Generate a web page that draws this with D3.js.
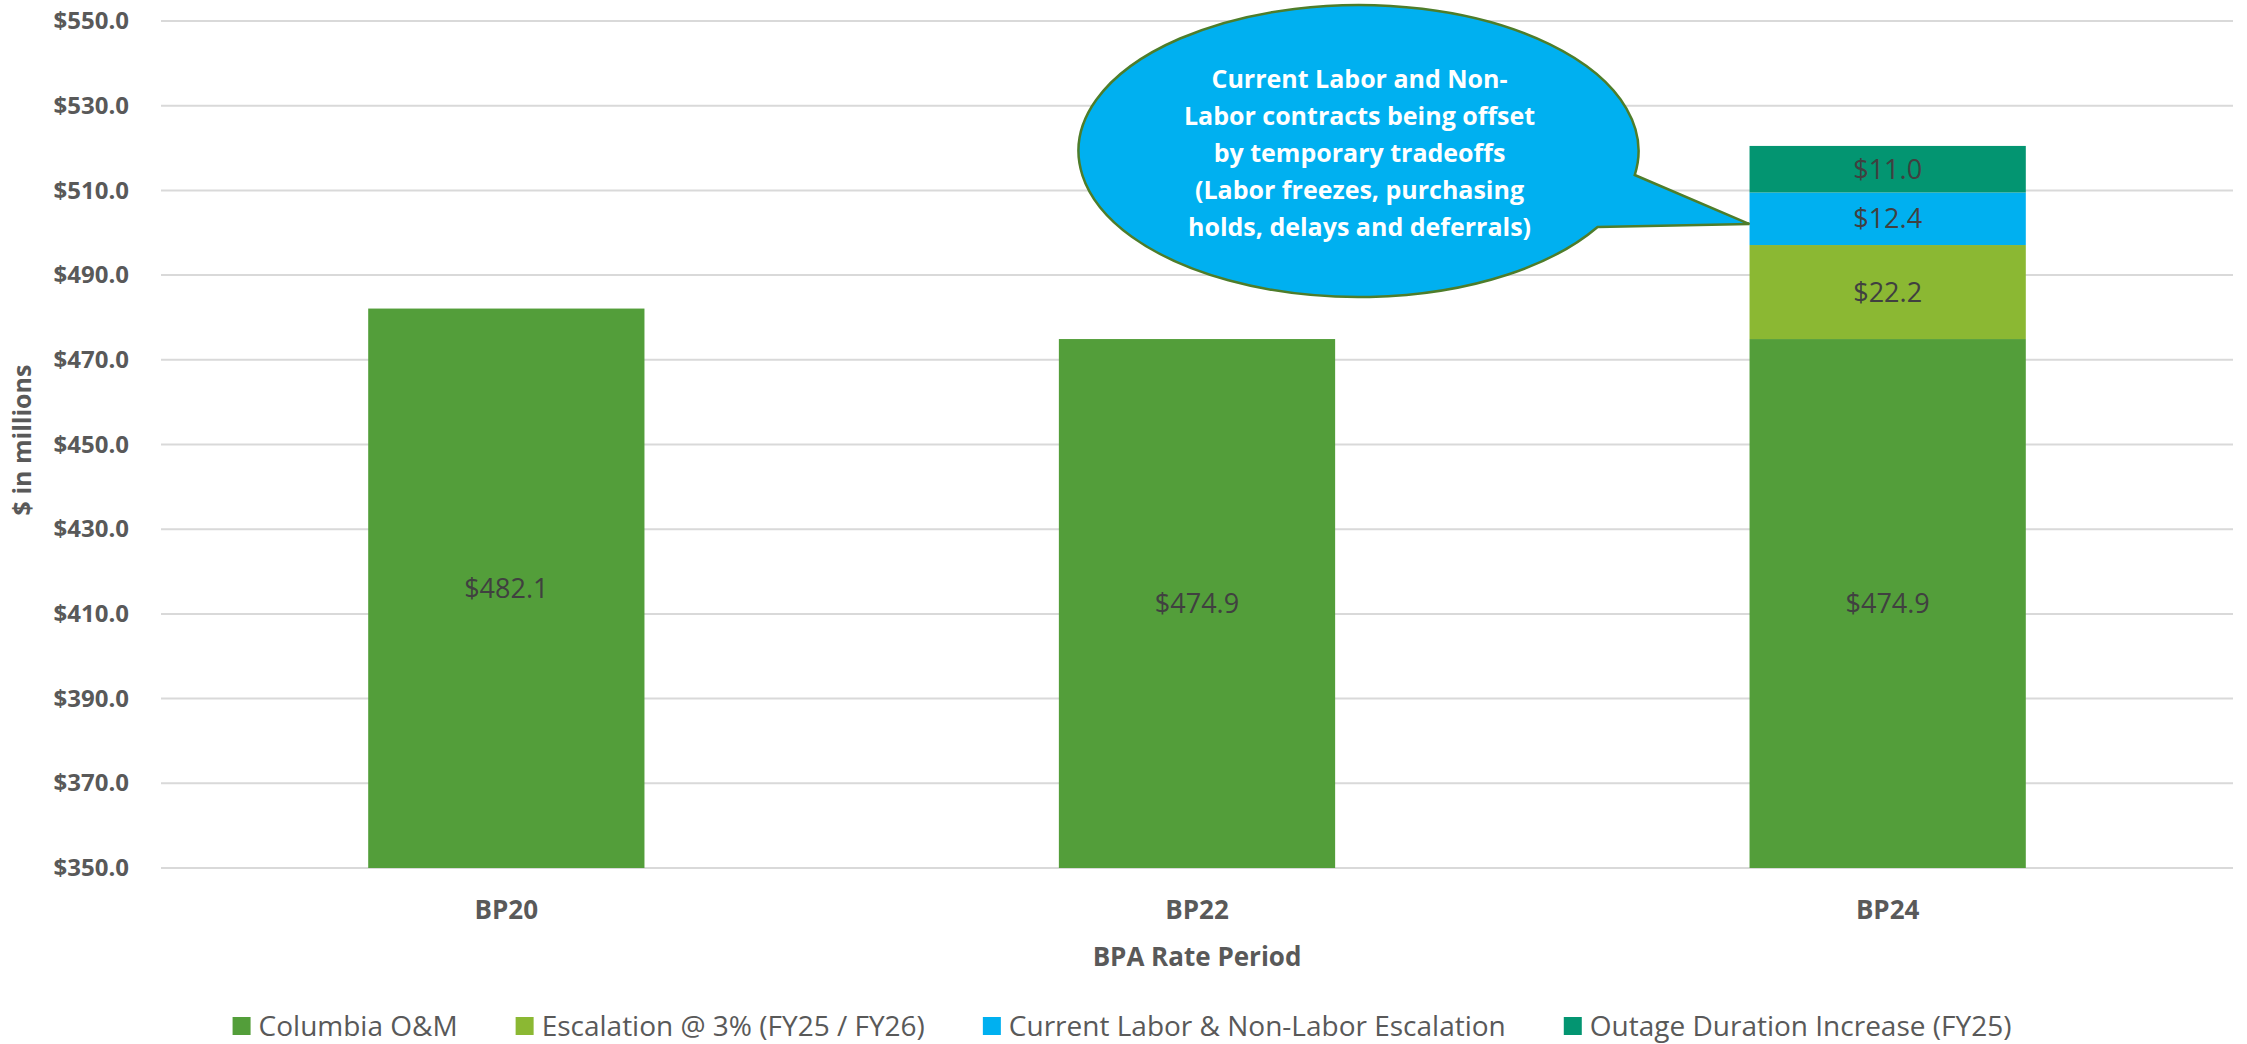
<!DOCTYPE html>
<html>
<head>
<meta charset="utf-8">
<script src="https://cdn.jsdelivr.net/npm/d3@7/dist/d3.min.js"></script>
<style>
  html, body { margin: 0; padding: 0; background: #ffffff; }
  svg { display: block; }
</style>
</head>
<body>
<svg id="chart" width="2247" height="1044"></svg>
<script>
// ---- data ----
const categories = ["BP20", "BP22", "BP24"];
const seriesNames = ["Columbia O&M", "Escalation @ 3% (FY25 / FY26)", "Current Labor & Non-Labor Escalation", "Outage Duration Increase (FY25)"];
const columbiaOM = [482.1, 474.9, 474.9];
const escalation3 = [0, 0, 22.2];
const laborEscalation = [0, 0, 12.4];
const outageIncrease = [0, 0, 11.0];
const yTicks = [350, 370, 390, 410, 430, 450, 470, 490, 510, 530, 550];
const calloutLines = ["Current Labor and Non-", "Labor contracts being offset", "by temporary tradeoffs", "(Labor freezes, purchasing", "holds, delays and deferrals)"];

const colors = ["#539E3A", "#8BB833", "#00B0F0", "#039571"];
const FONT = "'Open Sans', 'Noto Sans', sans-serif";

const svg = d3.select("#chart");
const plot = { left: 161, right: 2233, top: 21, bottom: 868 };

const x = d3.scaleBand().domain(categories).range([plot.left, plot.right]).paddingInner(0.6).paddingOuter(0.3);
const y = d3.scaleLinear().domain([350, 550]).range([plot.bottom, plot.top]);

// gridlines
svg.append("g").selectAll("line").data(yTicks).join("line")
  .attr("x1", plot.left).attr("x2", plot.right)
  .attr("y1", d => y(d)).attr("y2", d => y(d))
  .attr("stroke", "#D9D9D9").attr("stroke-width", 2);

// y axis labels
const yAxis = d3.axisLeft(y).tickValues(yTicks).tickFormat(d => "$" + d3.format(".1f")(d)).tickSize(0).tickPadding(0);
const yg = svg.append("g").attr("transform", "translate(129,0)").call(yAxis);
yg.select(".domain").remove();
yg.selectAll("text").attr("font-family", FONT).attr("font-weight", "bold").attr("font-size", 24).attr("fill", "#595959");

// x axis labels
const xAxis = d3.axisBottom(x).tickSize(0).tickPadding(0);
const xg = svg.append("g").attr("transform", `translate(0,${plot.bottom})`).call(xAxis);
xg.select(".domain").remove();
xg.selectAll("text").attr("dy", null).attr("y", 51).attr("font-family", FONT).attr("font-weight", "bold").attr("font-size", 26).attr("fill", "#595959");

// stacked data
const rows = categories.map((c, i) => ({
  cat: c,
  [seriesNames[0]]: columbiaOM[i],
  [seriesNames[1]]: escalation3[i],
  [seriesNames[2]]: laborEscalation[i],
  [seriesNames[3]]: outageIncrease[i]
}));
const stacked = d3.stack().keys(seriesNames)(rows);

const layers = svg.append("g").selectAll("g").data(stacked).join("g").attr("fill", (d, i) => colors[i]);
layers.selectAll("rect").data(d => d.filter(p => p[1] - p[0] > 0)).join("rect")
  .attr("x", d => x(d.data.cat))
  .attr("width", x.bandwidth())
  .attr("y", d => y(d[1]))
  .attr("height", d => y(Math.max(d[0], 350)) - y(d[1]));

// data labels
const labels = svg.append("g");
stacked.forEach((layer) => {
  layer.filter(p => p[1] - p[0] > 0).forEach(p => {
    const lo = Math.max(p[0], 350);
    labels.append("text")
      .attr("x", x(p.data.cat) + x.bandwidth() / 2)
      .attr("y", (y(lo) + y(p[1])) / 2)
      .attr("dy", "0.36em")
      .attr("text-anchor", "middle")
      .attr("font-family", FONT).attr("font-size", 27).attr("fill", "#404040")
      .text("$" + d3.format(".1f")(p[1] - p[0]));
  });
});

// axis titles
svg.append("text")
  .attr("x", (plot.left + plot.right) / 2).attr("y", 966)
  .attr("text-anchor", "middle")
  .attr("font-family", FONT).attr("font-weight", "bold").attr("font-size", 26).attr("fill", "#595959")
  .text("BPA Rate Period");

svg.append("text")
  .attr("transform", `translate(31,440) rotate(-90)`)
  .attr("text-anchor", "middle")
  .attr("font-family", FONT).attr("font-weight", "bold").attr("font-size", 25).attr("fill", "#595959")
  .text("$ in millions");

// callout annotation (anchored to BP24 bar)
const bx = x("BP24");
const tipY = y(columbiaOM[2] + escalation3[2] + laborEscalation[2] * 0.4);
const cx = bx - 391, cy = y(519.3), rx = 280, ry = 146;
const a1 = Math.asin(24 / ry), a2 = Math.asin(76 / ry);
const p1 = [cx + rx * Math.cos(a1), cy + ry * Math.sin(a1)];
const p2 = [cx + rx * Math.cos(a2), cy + ry * Math.sin(a2)];
svg.append("path")
  .attr("d", `M${p1[0]},${p1[1]} L${bx},${tipY} L${p2[0]},${p2[1]} A${rx},${ry} 0 1 1 ${p1[0]},${p1[1]} Z`)
  .attr("fill", "#00B0F0").attr("stroke", "#4E7D2A").attr("stroke-width", 2.5).attr("stroke-linejoin", "miter");

svg.append("g").selectAll("text").data(calloutLines).join("text")
  .attr("x", cx + 1)
  .attr("y", (d, i) => cy - 72 + i * 37)
  .attr("dy", "0.35em")
  .attr("text-anchor", "middle")
  .attr("font-family", FONT).attr("font-weight", "bold").attr("font-size", 25).attr("fill", "#ffffff")
  .text(d => d);

// legend
const legend = svg.append("g");
const legendY = 1026;
const items = legend.selectAll("g").data(seriesNames).join("g");
items.append("rect").attr("width", 18).attr("height", 18).attr("y", legendY - 9).attr("fill", (d, i) => colors[i]);
items.append("text").attr("x", 26).attr("y", legendY).attr("dy", "0.35em")
  .attr("font-family", FONT).attr("font-size", 28).attr("fill", "#595959").text(d => d);
const widths = [];
items.each(function () { widths.push(26 + this.querySelector("text").getComputedTextLength()); });
const gap = 58;
const total = d3.sum(widths) + gap * (widths.length - 1);
const start = 1122 - total / 2;
items.attr("transform", (d, i) => `translate(${start + d3.sum(widths.slice(0, i)) + gap * i},0)`);
</script>
</body>
</html>
